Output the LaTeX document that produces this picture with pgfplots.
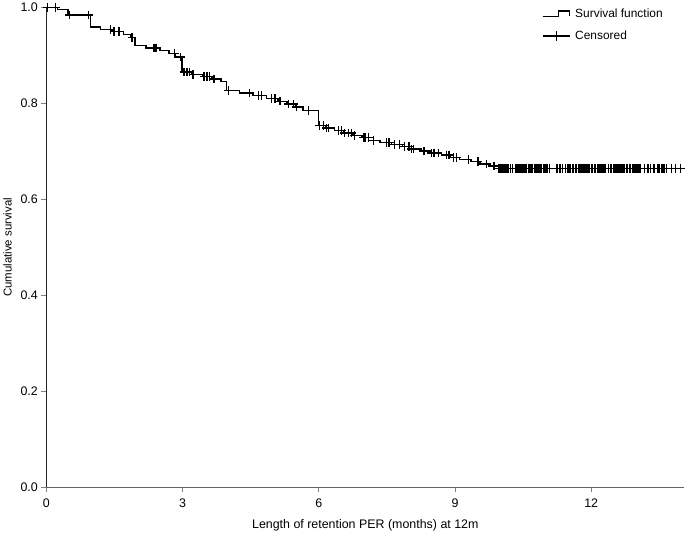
\documentclass[border=0pt]{standalone}
\usepackage{fontspec}
\setmainfont{Liberation Sans}
\usepackage{pgfplots}
\pgfplotsset{compat=1.18}

% Kaplan-Meier step points (time, survival after event)
\pgfplotstableread{
t s
0.00 1.000
0.25 0.996
0.48 0.985
0.97 0.960
1.20 0.955
1.45 0.950
1.70 0.944
1.85 0.938
1.95 0.921
2.20 0.916
2.50 0.911
2.70 0.905
2.85 0.897
2.99 0.866
3.20 0.861
3.45 0.856
3.65 0.851
3.85 0.846
3.97 0.827
4.25 0.822
4.55 0.817
4.85 0.811
5.10 0.805
5.30 0.799
5.50 0.793
5.65 0.786
6.00 0.754
6.15 0.749
6.35 0.744
6.55 0.739
6.75 0.734
6.95 0.729
7.10 0.723
7.35 0.719
7.60 0.715
7.85 0.710
8.00 0.705
8.25 0.701
8.45 0.697
8.70 0.693
8.90 0.688
9.10 0.683
9.35 0.679
9.55 0.674
9.75 0.670
9.87 0.665
14.00 0.665
}\survtable

% censored observations
\pgfplotstableread{
t s
0.03 1.000
0.20 1.000
0.51 0.985
0.93 0.985
1.41 0.955
1.49 0.950
1.60 0.950
1.89 0.938
2.37 0.916
2.42 0.916
2.83 0.905
2.96 0.897
3.03 0.866
3.10 0.866
3.16 0.866
3.23 0.861
3.47 0.856
3.54 0.856
3.60 0.856
3.69 0.851
4.01 0.827
4.48 0.822
4.67 0.817
4.74 0.817
4.96 0.811
5.04 0.811
5.15 0.805
5.33 0.799
5.44 0.799
5.51 0.793
5.78 0.786
6.02 0.754
6.11 0.754
6.17 0.749
6.22 0.749
6.43 0.744
6.50 0.744
6.57 0.739
6.66 0.739
6.72 0.739
6.79 0.734
6.98 0.729
7.02 0.729
7.09 0.729
7.20 0.723
7.49 0.719
7.53 0.719
7.56 0.719
7.67 0.715
7.78 0.715
7.89 0.710
7.99 0.710
8.04 0.705
8.08 0.705
8.30 0.701
8.32 0.701
8.48 0.697
8.54 0.697
8.63 0.697
8.81 0.693
8.85 0.693
8.87 0.693
8.96 0.688
9.03 0.688
9.29 0.683
9.51 0.679
9.69 0.674
9.86 0.670
9.97 0.665
10.00 0.665
10.03 0.665
10.06 0.665
10.09 0.665
10.12 0.665
10.17 0.665
10.22 0.665
10.27 0.665
10.33 0.665
10.36 0.665
10.39 0.665
10.42 0.665
10.45 0.665
10.49 0.665
10.52 0.665
10.55 0.665
10.58 0.665
10.62 0.665
10.65 0.665
10.68 0.665
10.71 0.665
10.75 0.665
10.78 0.665
10.82 0.665
10.85 0.665
10.88 0.665
10.91 0.665
10.95 0.665
10.98 0.665
11.01 0.665
11.04 0.665
11.08 0.665
11.23 0.665
11.26 0.665
11.30 0.665
11.33 0.665
11.37 0.665
11.44 0.665
11.47 0.665
11.51 0.665
11.54 0.665
11.58 0.665
11.61 0.665
11.65 0.665
11.68 0.665
11.72 0.665
11.75 0.665
11.79 0.665
11.82 0.665
11.86 0.665
11.89 0.665
11.93 0.665
11.96 0.665
12.00 0.665
12.03 0.665
12.07 0.665
12.10 0.665
12.14 0.665
12.17 0.665
12.21 0.665
12.24 0.665
12.28 0.665
12.31 0.665
12.38 0.665
12.42 0.665
12.45 0.665
12.49 0.665
12.52 0.665
12.56 0.665
12.59 0.665
12.63 0.665
12.66 0.665
12.70 0.665
12.73 0.665
12.77 0.665
12.80 0.665
12.84 0.665
12.87 0.665
12.91 0.665
12.94 0.665
12.98 0.665
13.01 0.665
13.05 0.665
13.09 0.665
13.17 0.665
13.25 0.665
13.31 0.665
13.38 0.665
13.47 0.665
13.50 0.665
13.54 0.665
13.58 0.665
13.62 0.665
13.66 0.665
13.76 0.665
13.86 0.665
13.97 0.665
}\censtable

\begin{document}
\begin{tikzpicture}[font=\fontsize{12.5}{14.5}\selectfont]
  \begin{axis}[
    scale only axis,
    width=640bp, height=481bp,
    xmin=0, xmax=14.05,
    ymin=0, ymax=1,
    axis x line*=bottom, axis y line*=left,
    x axis line style={-, gray!80!black, line width=1.1bp},
    y axis line style={-, black!85, line width=1bp},
    xtick={0,3,6,9,12},
    ytick={0,0.2,0.4,0.6,0.8,1.0},
    yticklabel style={/pgf/number format/fixed,
                      /pgf/number format/fixed zerofill,
                      /pgf/number format/precision=1},
    xticklabel style={yshift=-3bp},
    /pgf/number format/assume math mode=true,
    tick align=outside,
    major tick length=5bp,
    tick style={gray, line width=0.8bp},
    xlabel={Length of retention PER (months) at 12m},
    ylabel={Cumulative survival},
    xlabel style={yshift=-5bp},
    ylabel style={yshift=2bp, font=\fontsize{11.5}{13.5}\selectfont},
    clip=false,
    legend cell align=left,
    legend style={draw=none, fill=none,
                  at={(rel axis cs:0.772,1.006)}, anchor=north west,
                  column sep=3bp,
                  row sep=8bp, font=\fontsize{12}{14}\selectfont},
  ]
    \addplot[const plot, black, line width=1.4bp,
      legend image code/.code={
        \draw[black, line width=1.3bp]
          (0bp,-2.5bp) -- (16bp,-2.5bp) -- (16bp,3bp)
          -- (27bp,3bp) -- (27bp,-2bp);}]
      table[x=t, y=s] {\survtable};
    \addlegendentry{Survival function}
    \addplot[only marks, mark=+, mark size=4.3bp,
      mark options={black, line width=1.35bp},
      legend image code/.code={
        \draw[black, line width=1.3bp] (0bp,0bp) -- (27bp,0bp);
        \draw[black, line width=1.3bp] (13.5bp,-5bp) -- (13.5bp,5bp);}]
      table[x=t, y=s] {\censtable};
    \addlegendentry{Censored}
  \end{axis}
\end{tikzpicture}
\end{document}
